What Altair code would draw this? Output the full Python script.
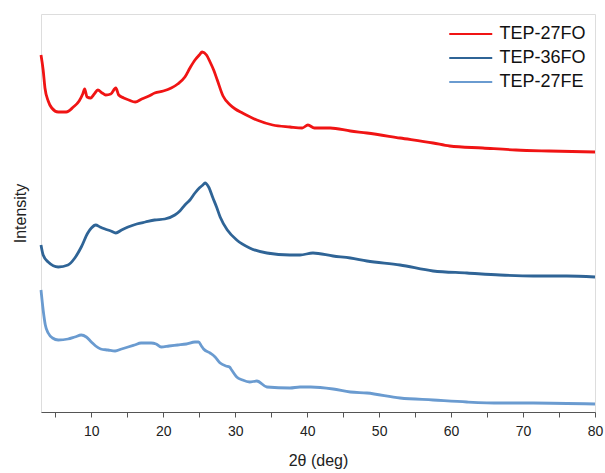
import altair as alt
import pandas as pd

# 2-theta positions (deg) and intensities (arbitrary units)
x_27fo = [3.0, 3.3, 3.55, 4.0, 4.5, 5.4, 6.5, 7.5, 8.3, 8.8, 9.07, 9.4, 9.9, 10.4, 10.9, 11.5, 12.0, 12.7,
          13.4, 13.8, 14.5, 15.2, 16.1, 17.0, 18.0, 18.8, 20.0, 21.1, 22.0, 23.0, 23.7, 24.4, 25.0, 25.4,
          26.0, 26.5, 27.0, 27.5, 28.3, 29.3, 30.0, 31.0, 33.0, 35.2, 37.6, 39.3, 40.1, 41.0, 43.2, 46.0,
          48.3, 52.9, 57.5, 59.8, 64.4, 69.0, 73.6, 80.0]
y_27fo = [357, 342, 324, 311, 304, 300, 300, 305, 311, 318, 323, 315, 314, 318, 322, 319, 317, 318,
          324, 317, 314, 312, 310, 313, 316, 319, 321, 324, 328, 335, 344, 352, 357, 360,
          357, 350, 342, 332, 316, 307, 303, 299, 292, 287, 285, 284, 287, 284, 284, 281,
          279, 274, 269, 266, 264, 262, 261, 260]

x_36fo = [3.0, 3.3, 4.0, 5.4, 6.75, 7.7, 8.6, 9.5, 10.0, 10.6, 11.2, 11.9, 12.7, 13.4, 14.2, 15.1, 16.3,
          17.5, 18.8, 20.2, 21.6, 22.3, 23.0, 23.7, 24.4, 25.0, 25.5, 25.8, 26.3, 26.9, 27.4, 27.9, 28.9,
          30.2, 32.0, 34.4, 37.6, 39.0, 40.8, 43.6, 46.0, 48.3, 52.9, 57.5, 62.2, 66.8, 71.4, 76.1, 80.0]
y_36fo = [167, 157, 150, 145, 147, 154, 165, 179, 184, 187, 185, 183, 181, 179, 182, 185, 188,
          190, 192, 193, 197, 201, 207, 212, 219, 224, 227, 229, 225, 214, 205, 195, 182,
          172, 164, 159, 157, 157, 159, 156, 154, 151, 147, 141, 139, 137, 136, 136, 135]

x_27fe = [3.0, 3.3, 3.6, 4.0, 4.6, 5.4, 6.75, 7.7, 8.6, 9.3, 10.0, 10.6, 11.3, 12.3, 13.3, 14.2, 15.1,
          16.0, 16.9, 18.3, 19.0, 19.7, 20.8, 22.0, 23.2, 24.4, 24.9, 25.3, 25.6, 26.5, 27.2, 27.9, 28.7,
          29.2, 29.5, 30.2, 31.0, 32.0, 33.0, 34.4, 37.6, 39.0, 40.5, 43.6, 46.0, 48.3, 52.9, 57.5, 62.2,
          66.8, 71.4, 80.0]
y_27fe = [122, 102, 87, 79, 74, 72, 73, 75, 77, 75, 70, 66, 63, 62, 61, 63, 65,
          67, 69, 69, 68, 65, 66, 67, 68, 70, 70, 66, 63, 59, 55, 49, 46,
          45, 42, 35, 32, 30, 31, 25, 24, 25, 25, 23, 20, 19, 14, 12, 10,
          9, 9, 8]

series_names = ["TEP-27FO", "TEP-36FO", "TEP-27FE"]
series_colors = ["#f01414", "#2f6496", "#6a9bd0"]

rows = []
for name, xs, ys in [("TEP-27FO", x_27fo, y_27fo), ("TEP-36FO", x_36fo, y_36fo), ("TEP-27FE", x_27fe, y_27fe)]:
    for i, (a, b) in enumerate(zip(xs, ys)):
        rows.append({"series": name, "x": a, "y": b, "i": i})
df = pd.DataFrame(rows)

chart = alt.Chart(df).mark_line(strokeWidth=2.8, interpolate="monotone").encode(
    x=alt.X("x:Q", scale=alt.Scale(domain=[3, 80], nice=False, zero=False),
            axis=alt.Axis(title="2θ (deg)", values=list(range(5, 81, 5)),
                          labelExpr="datum.value % 10 == 0 ? datum.label : ''",
                          grid=False, tickSize=5, tickColor="#555", domainColor="#555",
                          labelFontSize=14, labelColor="#222", labelPadding=7,
                          titleFontSize=16, titleFontWeight="normal", titleColor="#222",
                          titlePadding=14, labelFlush=False)),
    y=alt.Y("y:Q", scale=alt.Scale(domain=[0, 398], nice=False),
            axis=alt.Axis(title="Intensity", labels=False, ticks=False, domain=False, grid=False,
                          titleFontSize=16, titleFontWeight="normal", titleColor="#222",
                          titlePadding=13)),
    color=alt.Color("series:N", scale=alt.Scale(domain=series_names, range=series_colors),
                    legend=alt.Legend(title=None, orient="none", legendX=407, legendY=8,
                                      symbolType="M-1,0H3", symbolSize=462, symbolStrokeWidth=2,
                                      labelFontSize=18, labelColor="#111", labelOffset=27.5,
                                      rowPadding=3, padding=0)),
    detail="series:N",
    order="i:Q",
).properties(
    width=554, height=398,
    padding={"left": 41, "top": 14, "right": 10, "bottom": 61},
    autosize=alt.AutoSizeParams(type="none"),
).configure_view(
    stroke="#555", strokeWidth=1
).configure(
    font="Liberation Sans"
)

chart.save("out.html", embed_options={"renderer": "svg", "actions": False})
